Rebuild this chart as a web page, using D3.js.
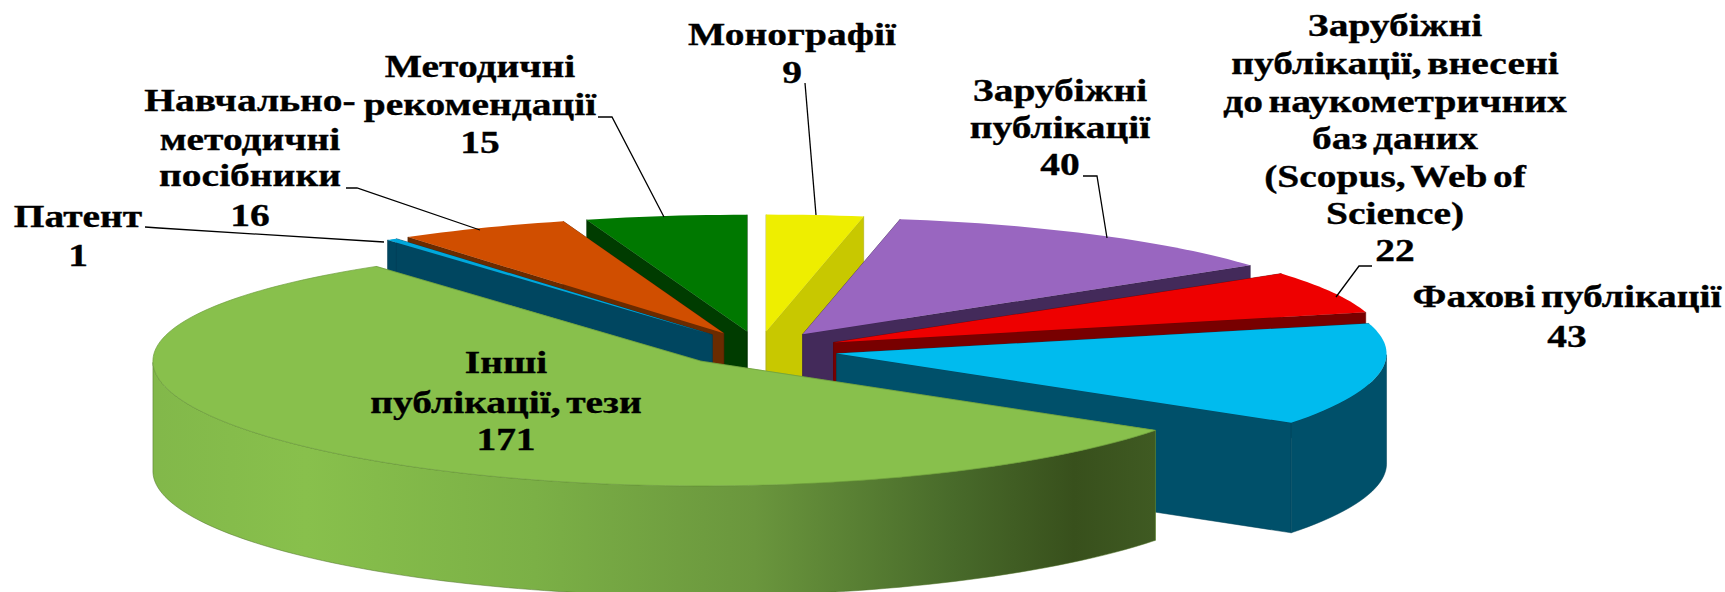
<!DOCTYPE html>
<html>
<head>
<meta charset="utf-8">
<script src="https://cdn.jsdelivr.net/npm/d3@7"></script>
<style>
  html, body { margin: 0; padding: 0; background: #fff; overflow: hidden; }
  svg { display: block; }
  text { font-family: "Liberation Serif", serif; font-weight: bold; font-size: 32px; fill: #000; text-anchor: middle; word-spacing: -3.5px; stroke: #000; stroke-width: 0.35px; }
</style>
</head>
<body>
<div id="chart"></div>
<script>
// clockwise from 12 o'clock
var categories = ["Монографії", "Зарубіжні публікації", "Зарубіжні публікації, внесені до наукометричних баз даних (Scopus, Web of Science)",
    "Фахові публікації", "Інші публікації, тези", "Патент", "Навчально-методичні посібники", "Методичні рекомендації"];
var values = [9, 40, 22, 43, 171, 1, 16, 15];
var topColors = ["#eeee00", "#9966c0", "#ee0000", "#00bbee", "#88c04c", "#00a8dc", "#d04e00", "#007800"];
var sideColors = ["#c8c800", "#432a5a", "#780000", "#00506a", "#88c04c", "#004660", "#6a2b00", "#003c00"];
var labelLines = [
    ["Монографії", "9"],
    ["Зарубіжні", "публікації", "40"],
    ["Зарубіжні", "публікації, внесені", "до наукометричних", "баз даних", "(Scopus, Web of", "Science)", "22"],
    ["Фахові публікації", "43"],
    ["Інші", "публікації, тези", "171"],
    ["Патент", "1"],
    ["Навчально-", "методичні", "посібники", "16"],
    ["Методичні", "рекомендації", "15"]
];
var labelX = [792, 1060, 1395, 1567, 506, 78, 250, 480];
var labelY = [
    [45, 83],
    [101, 138, 175],
    [36, 74, 112, 149, 187, 224, 261],
    [307, 347],
    [373, 413, 450],
    [227, 266],
    [111, 150, 186, 226],
    [77, 115, 153]
];
var leaders = [
    [[805, 83], [816, 215]],
    [[1083, 176], [1097, 176], [1107, 238]],
    [[1372, 266], [1359, 266], [1336, 297]],
    null,
    null,
    [[145, 227], [159, 228], [384, 242]],
    [[346, 188], [357, 188], [480, 230]],
    [[598, 117], [612, 117], [664, 217]]
];

var width = 1725,
    height = 592,
    cx = 759,
    cy = 349,
    rxLeft = 548,
    rxRight = 550,
    ry = 120.8,
    depth = 110,
    explode = 0.146,
    textStretch = 1.235;

var svg = d3.select("#chart")
    .append("svg")
    .attr("width", width)
    .attr("height", height);

var xScale = d3.scaleLinear().domain([-1, 0, 1]).range([cx - rxLeft, cx, cx + rxRight]);
var yScale = d3.scaleLinear().domain([-1, 1]).range([cy - ry, cy + ry]);

var pie = d3.pie().sort(null).value(function(d) { return d; });
var arcs = pie(values);

// the picture's perspective squeezes the right hand rim a little
function lean(a) {
    var deg = a * 180 / Math.PI;
    var t = (deg - 105) / 35;
    return a - 8.5 * Math.exp(-t * t) * Math.PI / 180;
}

function point(arc, a, r) {
    var mid = (arc.startAngle + arc.endAngle) / 2;
    var b = lean(a);
    var v = -r * Math.cos(b);
    return [
        xScale(explode * Math.sin(mid) + r * Math.sin(b)),
        yScale(-explode * Math.cos(mid) + v * (1 + 0.033 * v))
    ];
}

function rimAngles(arc) {
    var n = Math.max(4, Math.ceil((arc.endAngle - arc.startAngle) * 40));
    return d3.range(n + 1).map(function(i) {
        return arc.startAngle + (arc.endAngle - arc.startAngle) * i / n;
    });
}

function down(p) {
    return [p[0], p[1] + depth];
}

var line = d3.line();

var defs = svg.append("defs");
var grad = defs.append("linearGradient")
    .attr("id", "wallGreen")
    .attr("gradientUnits", "userSpaceOnUse")
    .attr("x1", 156).attr("x2", 1154)
    .attr("y1", 0).attr("y2", 0);
[[0, "#82b84a"], [0.15, "#88c04c"], [0.38, "#7bb046"], [0.6, "#6a963d"], [0.8, "#486a2a"], [0.92, "#38501c"], [1, "#3f5a22"]].forEach(function(s) {
    grad.append("stop").attr("offset", s[0]).attr("stop-color", s[1]);
});

// painter's order: rear slices first, the big front slice last
var order = [0, 7, 6, 5, 1, 2, 3, 4];

var slices = svg.append("g").attr("class", "slices")
    .selectAll("g")
    .data(order)
    .enter()
    .append("g");

slices.each(function(i) {
    var g = d3.select(this);
    var arc = arcs[i];
    var angles = rimAngles(arc);
    var rim = angles.map(function(a) { return point(arc, a, 1); });
    var apex = point(arc, arc.startAngle, 0);
    var side = sideColors[i];
    var wallFill = i === 4 ? "url(#wallGreen)" : side;
    var edge = d3.color(side).darker(0.5);

    [rim[0], rim[rim.length - 1]].forEach(function(p) {
        g.append("path")
            .attr("d", line([apex, p, down(p), down(apex)]) + "Z")
            .attr("fill", side)
            .attr("stroke", edge)
            .attr("stroke-width", 0.5);
    });

    // outer wall: only the part of the rim that faces the viewer
    var front = rim.filter(function(p, k) { return Math.cos(lean(angles[k])) <= 0; });
    if (front.length > 1) {
        g.append("path")
            .attr("d", line(front.concat(front.map(down).reverse())) + "Z")
            .attr("fill", wallFill)
            .attr("stroke", i === 4 ? "#4f7029" : edge)
            .attr("stroke-width", 0.5);
    }

    g.append("path")
        .attr("d", line([apex].concat(rim)) + "Z")
        .attr("fill", topColors[i])
        .attr("stroke", i === 4 ? "#6f9f3e" : "none")
        .attr("stroke-width", 0.7);
});

// leader lines
svg.append("g").attr("class", "leaders")
    .selectAll("path")
    .data(leaders.filter(function(d) { return d; }))
    .enter()
    .append("path")
    .attr("d", function(d) { return line(d); })
    .attr("fill", "none")
    .attr("stroke", "#000")
    .attr("stroke-width", 1.3);

// labels
var labels = svg.append("g").attr("class", "labels")
    .selectAll("g")
    .data(labelLines)
    .enter()
    .append("g")
    .attr("transform", function(d, i) {
        return "translate(" + labelX[i] + ",0) scale(" + textStretch + ",1)";
    });

labels.each(function(lines, i) {
    d3.select(this).selectAll("text")
        .data(lines)
        .enter()
        .append("text")
        .attr("y", function(d, j) { return labelY[i][j]; })
        .text(function(d) { return d; });
});
</script>
</body>
</html>
